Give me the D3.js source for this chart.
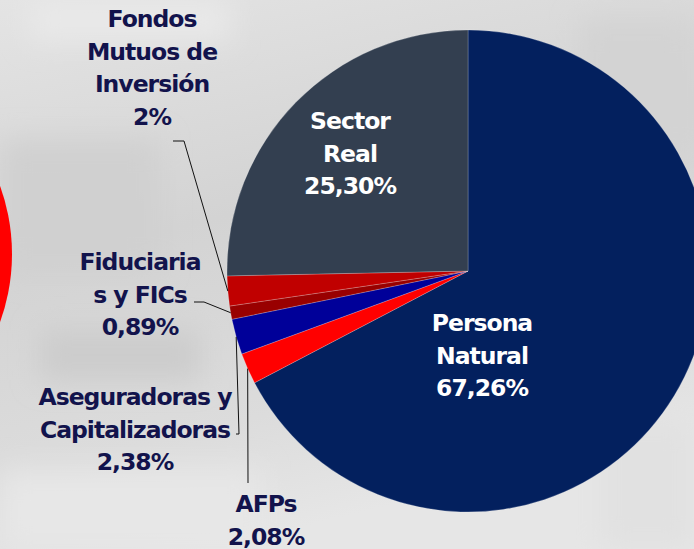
<!DOCTYPE html>
<html><head><meta charset="utf-8">
<script src="https://cdn.jsdelivr.net/npm/d3@7"></script>
<style>html,body{margin:0;padding:0;overflow:hidden;background:#d8d8d8}</style>
</head><body>
<svg id="c" width="694" height="549"></svg>
<script>
// ---- data ----
const categories = ["Persona Natural", "AFPs", "Aseguradoras y Capitalizadoras", "Fiduciarias y FICs", "Fondos Mutuos de Inversión", "Sector Real"];
const values = [67.26, 2.08, 2.38, 0.89, 2, 25.30];
const valueLabels = ["67,26%", "2,08%", "2,38%", "0,89%", "2%", "25,30%"];
const labelLines = [["Persona", "Natural"], ["AFPs"], ["Aseguradoras y", "Capitalizadoras"], ["Fiduciaria", "s y FICs"], ["Fondos", "Mutuos de", "Inversión"], ["Sector", "Real"]];
const colors = ["#03205E", "#FF0000", "#000099", "#990000", "#C00000", "#333F50"];

// ---- layout ----
const W = 694, H = 549;
const cx = 468, cy = 271, R = 241;
const svg = d3.select("#c");
const defs = svg.append("defs");

// background (photo-like gray)
const bg = defs.append("linearGradient").attr("id", "bg").attr("x1", 0).attr("y1", 0).attr("x2", 0.3).attr("y2", 1);
bg.append("stop").attr("offset", 0).attr("stop-color", "#e4e4e4");
bg.append("stop").attr("offset", 0.45).attr("stop-color", "#d3d3d3");
bg.append("stop").attr("offset", 0.8).attr("stop-color", "#dcdcdc");
bg.append("stop").attr("offset", 1).attr("stop-color", "#e6e6e6");
const blur = defs.append("filter").attr("id", "blur").attr("x", "-50%").attr("y", "-50%").attr("width", "200%").attr("height", "200%");
blur.append("feGaussianBlur").attr("stdDeviation", 14);
svg.append("rect").attr("width", W).attr("height", H).attr("fill", "url(#bg)");
const bgShapes = [
  {x: 30, y: 0, w: 200, h: 40, c: "#e9e9e9"},
  {x: 0, y: 140, w: 160, h: 130, c: "#d0d0d0"},
  {x: 40, y: 330, w: 160, h: 50, c: "#cccccc"},
  {x: 0, y: 470, w: 260, h: 80, c: "#e7e7e7"},
  {x: 580, y: 20, w: 114, h: 140, c: "#d3d3d3"},
  {x: 600, y: 420, w: 94, h: 129, c: "#e1e1e1"}
];
svg.append("g").attr("filter", "url(#blur)").selectAll("rect").data(bgShapes).join("rect")
  .attr("x", d => d.x).attr("y", d => d.y).attr("width", d => d.w).attr("height", d => d.h).attr("fill", d => d.c);

// partial red disk at left edge
svg.append("circle").attr("cx", -188).attr("cy", 254).attr("r", 200).attr("fill", "#FF0000");

// ---- pie ----
const pie = d3.pie().sort(null).value(d => d).startAngle(0).endAngle(2 * Math.PI);
const arcs = pie(values);
const arc = d3.arc().innerRadius(0).outerRadius(R);
const g = svg.append("g").attr("transform", `translate(${cx},${cy})`);
g.selectAll("path").data(arcs).join("path")
  .attr("d", arc).attr("fill", (d, i) => colors[i])
  .attr("stroke", "rgba(255,255,255,0.35)").attr("stroke-width", 0.6);

const font = "'DejaVu Sans', sans-serif";
const fs = 23.5;
const inside = {0: {x: 482, y: 331}, 5: {x: 350, y: 129}};
const outside = {
  4: {x: 152, y: 27, lead: [[173, 141], [184, 141]]},
  3: {x: 140, y: 270, lead: [[194, 302], [204, 302]]},
  2: {x: 135, y: 405, lead: [[236, 434], [239, 434]]},
  1: {x: 266, y: 512, lead: [[248, 483]]}
};
const lh = 32.5;

function drawLabel(i, pos, color) {
  const lines = labelLines[i].concat([valueLabels[i]]);
  const t = svg.append("text").attr("text-anchor", "middle")
    .attr("font-family", font).attr("font-weight", "bold").attr("font-size", fs)
    .attr("fill", color).attr("letter-spacing", -1);
  lines.forEach((s, k) => t.append("tspan").attr("x", pos.x).attr("y", pos.y + k * lh).text(s));
}
Object.keys(inside).forEach(k => drawLabel(+k, inside[k], "#ffffff"));
Object.keys(outside).forEach(k => {
  const i = +k, o = outside[k];
  drawLabel(i, o, "#12134C");
  const a = (arcs[i].startAngle + arcs[i].endAngle) / 2;
  const end = [cx + R * Math.sin(a), cy - R * Math.cos(a)];
  svg.append("path").attr("d", d3.line()(o.lead.concat([end])))
    .attr("fill", "none").attr("stroke", "#111").attr("stroke-width", 1);
});
</script>
</body></html>
